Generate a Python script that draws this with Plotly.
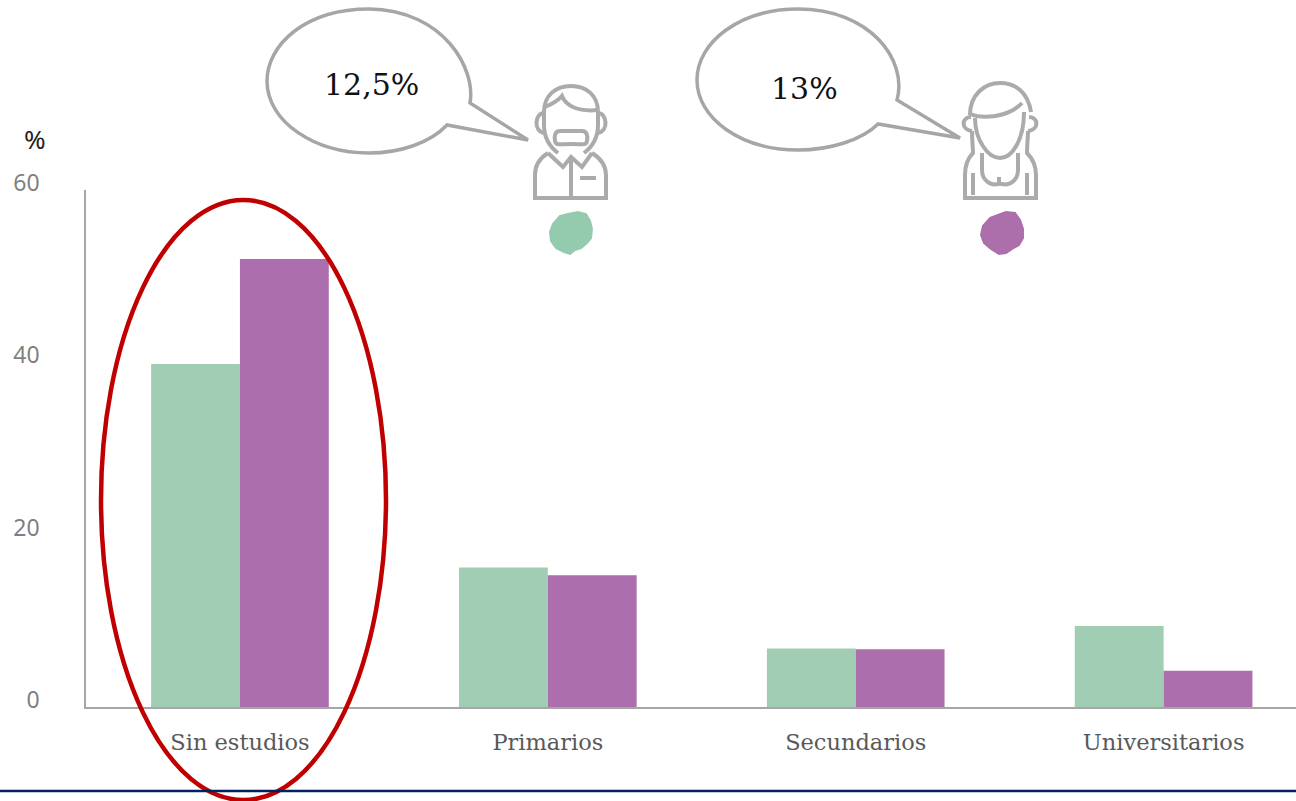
import plotly.graph_objects as go

categories = ['Sin estudios', 'Primarios', 'Secundarios', 'Universitarios']
hombres = [39.8, 16.2, 6.8, 9.4]
mujeres = [52.0, 15.3, 6.7, 4.2]
y_ticks = [0, 20, 40, 60]

GREEN = '#A0CDB3'
PURPLE = '#AC6EAC'
GRAY = '#A6A6A6'
SERIF = 'DejaVu Serif'

# decoration is drawn in page pixels on a hidden second axis pair
bubble_man = 'M470,103 C476,70 445,10 369,9 C305,9 267,45 267,81 C267,122 315,153 369,153 C400,153 430,143 447,125 L528,140 Z'
bubble_woman = 'M897,100 C908,60 870,9 798,9 C740,9 697,42 697,80 C697,118 740,150 798,150 C830,150 862,140 878,124 L960,138 Z'

man_icon = [
    'M544,125 L544,112 C544,95 556,86 571,86 C586,86 598,95 598,112 L598,125 C598,138 592,147 584,153',
    'M544,125 C544,138 550,147 558,153',
    'M545,107 C552,104 558,101 562,96 C566,106 578,112 598,110',
    'M544,113 C535,113 533,131 544,133',
    'M598,113 C607,113 609,131 598,133',
    'M560,131 L582,131 C587,131 588,136 587,141 C586,146 582,144 571,144 C560,144 556,146 555,141 C554,136 555,131 560,131 Z',
    'M548,153 L563,167 L571,157 L582,167 L592,153',
    'M548,153 C540,158 535,165 535,175 L535,198 L606,198 L606,175 C606,165 600,158 592,153',
    'M571,157 L571,198',
    'M580,178 L596,178',
]
woman_icon = [
    'M970,115 C970,95 984,83 1000,83 C1015,83 1028,92 1031,112',
    'M970,114 C982,119 1008,118 1022,103',
    'M975,118 C975,140 988,158 1000,158 C1012,158 1024,140 1024,112',
    'M971,117 C961,117 961,130 972,131',
    'M1029,117 C1039,117 1039,130 1028,131',
    'M972,131 C972,142 973,148 973,153 C968,158 965,165 965,175 L965,198 L1036,198 L1036,175 C1036,165 1032,158 1027,153 C1027,145 1028,138 1028,131',
    'M982,153 L982,170 C982,180 990,186 998,184 L1002,184 C1010,186 1018,180 1018,170 L1018,153',
    'M999,177 L999,183',
    'M973,173 L973,195',
    'M1027,173 L1027,195',
]
blob_man = ('M560,216 L568,214 L578,212 L586,214 L590,221 L592,229 L591,238 L587,243 L581,248 L575,250 '
            'L570,254 L564,252 L556,248 L551,241 L550,232 L553,224 Z')
blob_woman = ('M990,218 L998,215 L1006,212 L1015,213 L1020,220 L1023,229 L1023,238 L1019,245 L1012,249 '
              'L1006,253 L999,254 L991,249 L984,243 L981,235 L983,226 Z')


def decor(path, **kw):
    return dict(type='path', xref='x2', yref='y2', path=path, layer='above', **kw)


shapes = [
    decor(bubble_man, line=dict(color=GRAY, width=3.5), fillcolor='rgba(0,0,0,0)'),
    decor(bubble_woman, line=dict(color=GRAY, width=3.5), fillcolor='rgba(0,0,0,0)'),
    decor(blob_man, line=dict(color='#94CBAE', width=2), fillcolor='#94CBAE'),
    decor(blob_woman, line=dict(color='#AD6EAC', width=2), fillcolor='#AD6EAC'),
]
for p in man_icon + woman_icon:
    shapes.append(decor(p, line=dict(color='#ABABAB', width=4), fillcolor='rgba(0,0,0,0)'))

# red ellipse and the blue line at the bottom
shapes.append(dict(type='circle', xref='x2', yref='y2', x0=101, x1=386, y0=200, y1=800,
                   line=dict(color='#C00000', width=4.5), layer='above'))
shapes.append(dict(type='line', xref='x2', yref='y2', x0=0, x1=1296, y0=791, y1=791,
                   line=dict(color='#002060', width=2.5), layer='above'))

fig = go.Figure()
fig.add_trace(go.Bar(x=categories, y=hombres, name='Hombres', marker_color=GREEN, marker_line_width=0))
fig.add_trace(go.Bar(x=categories, y=mujeres, name='Mujeres', marker_color=PURPLE, marker_line_width=0))

fig.update_layout(
    width=1296, height=801,
    margin=dict(l=0, r=0, t=0, b=0, pad=0, autoexpand=False),
    paper_bgcolor='white', plot_bgcolor='rgba(0,0,0,0)',
    showlegend=False,
    barmode='group', bargap=0.423, bargroupgap=0,
    shapes=shapes,
    xaxis=dict(domain=[86 / 1296, 1], range=[-0.5, 3.43], showgrid=False, showline=True,
               linecolor='#A6A6A6', linewidth=1.5, ticks='', ticklabelstandoff=14, automargin=False,
               tickfont=dict(family=SERIF, size=22.5, color='#595959')),
    yaxis=dict(domain=[1 - 707 / 801, 1 - 190 / 801], range=[0, 60], showgrid=False, showline=True,
               linecolor='#A6A6A6', linewidth=1.5, ticks='', tickvals=y_ticks, ticklabelstandoff=40,
               ticklabelshift=-7, automargin=False, tickfont=dict(family='Noto Sans', size=23, color='#7F7F7F')),
    xaxis2=dict(domain=[0, 1], range=[0, 1296], visible=False, anchor='y2'),
    yaxis2=dict(domain=[0, 1], range=[801, 0], visible=False, anchor='x2'),
    annotations=[
        dict(text='12,5%', x=371, y=84, xref='x2', yref='y2', showarrow=False,
             font=dict(family=SERIF, size=30, color='#111111')),
        dict(text='13%', x=804, y=88, xref='x2', yref='y2', showarrow=False,
             font=dict(family=SERIF, size=30, color='#111111')),
        dict(text='%', x=35, y=139, xref='x2', yref='y2', showarrow=False,
             font=dict(family='Noto Sans', size=26, color='#222222')),
    ],
)

fig.write_html("out.html", config=dict(displayModeBar=False),
               post_script="document.body.style.margin='0';document.body.style.overflow='hidden';")
